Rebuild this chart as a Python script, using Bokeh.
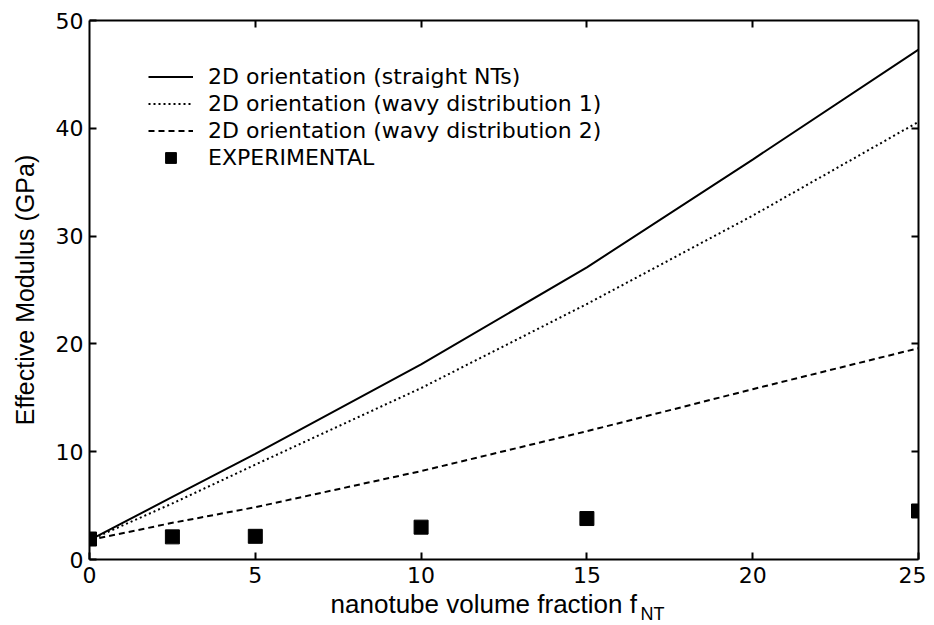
from bokeh.plotting import figure
from bokeh.models import LinearAxis, FixedTicker, Legend, LegendItem, Range1d, Label
from bokeh.embed import file_html
from bokeh.resources import INLINE

# data
x_model = [0, 2.5, 5, 10, 15, 20, 25]
straight = [1.8, 5.8, 9.8, 18.1, 27.1, 37.1, 47.3]
wavy1 = [1.8, 5.2, 8.8, 15.9, 23.7, 31.9, 40.6]
wavy2 = [1.8, 3.4, 4.85, 8.2, 11.9, 15.8, 19.6]
x_exp = [0, 2.5, 5, 10, 15, 25]
y_exp = [1.9, 2.1, 2.15, 3.0, 3.8, 4.5]
x_ticks = [0, 5, 10, 15, 20, 25]
y_ticks = [0, 10, 20, 30, 40, 50]
labels = ["2D orientation (straight NTs)", "2D orientation (wavy distribution 1)",
          "2D orientation (wavy distribution 2)", "EXPERIMENTAL"]
x_title = "nanotube volume fraction f"
x_title_sub = "NT"
y_title = "Effective Modulus (GPa)"

FONT = "DejaVu Sans"
AFONT = "Liberation Sans"

p = figure(width=926, height=623, output_backend="svg", toolbar_location=None,
           x_range=Range1d(0, 25), y_range=Range1d(0, 50),
           min_border_left=89, min_border_right=8, min_border_top=20, min_border_bottom=64,
           x_axis_location=None, y_axis_location=None)
p.outline_line_color = None
p.xgrid.visible = False
p.ygrid.visible = False
p.background_fill_color = "white"
p.border_fill_color = "white"

def style_axis(ax, ticks, show_labels):
    ax.ticker = FixedTicker(ticks=ticks)
    ax.minor_tick_line_color = None
    ax.major_tick_in = 7
    ax.major_tick_out = 0
    ax.major_tick_line_width = 2
    ax.axis_line_width = 2
    ax.axis_line_color = "black"
    ax.major_tick_line_color = "black"
    if show_labels:
        ax.major_label_text_font = FONT
        ax.major_label_text_font_size = "22px"
        ax.major_label_text_color = "black"
    else:
        ax.major_label_overrides = {t: "" for t in ticks}
        ax.major_label_text_font_size = "1px"
        ax.major_label_standoff = 0

xb = LinearAxis()
style_axis(xb, x_ticks, True)
xb.major_label_standoff = 7
p.add_layout(xb, "below")

yl = LinearAxis(axis_label=y_title)
style_axis(yl, y_ticks, True)
yl.major_label_standoff = 6
yl.axis_label_text_font = AFONT
yl.axis_label_text_font_size = "25px"
yl.axis_label_text_font_style = "normal"
yl.axis_label_text_color = "black"
yl.axis_label_standoff = 14
p.add_layout(yl, "left")

xt = LinearAxis()
style_axis(xt, [5, 10, 15, 20], False)
p.add_layout(xt, "above")

yr = LinearAxis()
style_axis(yr, [10, 20, 30, 40], False)
p.add_layout(yr, "right")

r1 = p.line(x_model, straight, line_color="black", line_width=2)
r2 = p.line(x_model, wavy1, line_color="black", line_width=2, line_dash="2 3")
r3 = p.line(x_model, wavy2, line_color="black", line_width=2, line_dash="6 4")
r4 = p.scatter(x_exp, y_exp, marker="square", size=14, fill_color="black", line_color="black")

legend = Legend(items=[LegendItem(label=labels[0], renderers=[r1]),
                       LegendItem(label=labels[1], renderers=[r2]),
                       LegendItem(label=labels[2], renderers=[r3]),
                       LegendItem(label=labels[3], renderers=[r4])],
                location=(59, 388), border_line_color=None, background_fill_alpha=0,
                glyph_width=45, glyph_height=27, label_height=27, spacing=0,
                label_standoff=15, padding=0, margin=0,
                label_text_font=FONT, label_text_font_size="22px", label_text_color="black")
p.add_layout(legend, "center")

# side-panel placement keeps the texts outside the frame clip; their position comes from data coords
p.add_layout(Label(x=7.27, y=-4.17, text=x_title, text_font=AFONT,
                   text_font_size="26px", text_baseline="alphabetic", text_color="black"),
             "below")
p.add_layout(Label(x=16.62, y=-5.1, text=x_title_sub, text_font=AFONT,
                   text_font_size="18px", text_baseline="alphabetic", text_color="black"),
             "above")

open("out.html", "w").write(file_html(p, INLINE))
